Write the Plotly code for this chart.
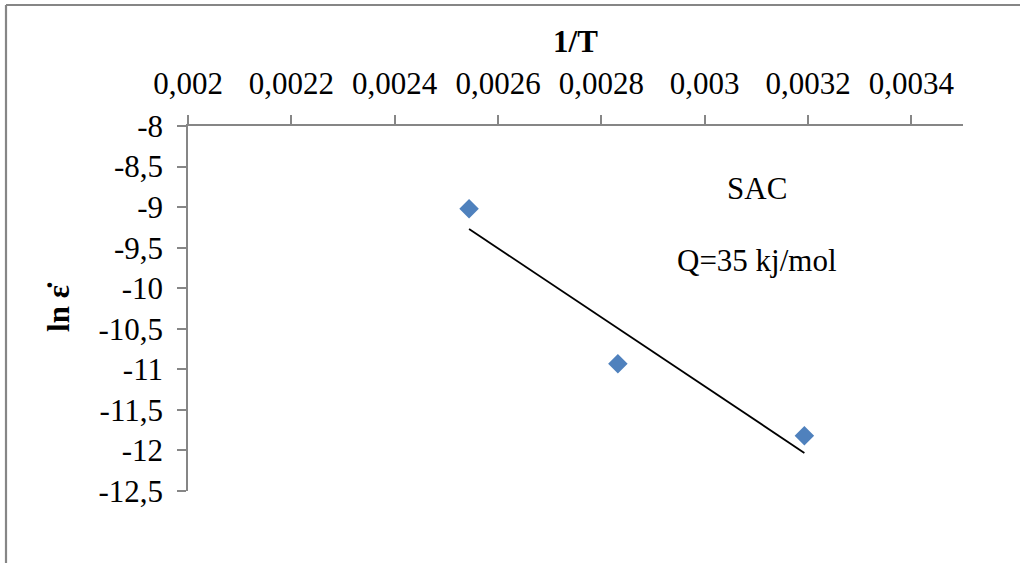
import plotly.graph_objects as go

# data
inv_T = [0.002544, 0.002832, 0.003193]
ln_rate = [-9.02, -10.93, -11.82]
trend_x = [0.002544, 0.003193]
trend_y = [-9.27, -12.03]

x_ticks = [0.002, 0.0022, 0.0024, 0.0026, 0.0028, 0.003, 0.0032, 0.0034]
x_ticktext = ["0,002", "0,0022", "0,0024", "0,0026", "0,0028", "0,003", "0,0032", "0,0034"]
y_ticks = [-8, -8.5, -9, -9.5, -10, -10.5, -11, -11.5, -12, -12.5]
y_ticktext = ["-8", "-8,5", "-9", "-9,5", "-10", "-10,5", "-11", "-11,5", "-12", "-12,5"]

FONT = "Liberation Serif, Times New Roman, serif"
AX = "#868686"
FS = 31

fig = go.Figure()
fig.add_trace(go.Scatter(x=trend_x, y=trend_y, mode="lines",
                         line=dict(color="black", width=1.8), showlegend=False,
                         hoverinfo="skip"))
fig.add_trace(go.Scatter(x=inv_T, y=ln_rate, mode="markers",
                         marker=dict(symbol="diamond", size=15, color="#4F81BD",
                                     line=dict(width=0)),
                         showlegend=False))

L, R, T, B = 188, 57, 126, 72
W, H = 1020, 563
pw, ph = W - L - R, H - T - B

def px(p):
    return (p - L) / pw

def py(q):
    return (H - B - q) / ph

fig.update_layout(
    width=W, height=H,
    margin=dict(l=L, r=R, t=T, b=B, pad=0),
    paper_bgcolor="white", plot_bgcolor="white",
    font=dict(family=FONT, size=FS, color="black"),
    xaxis=dict(range=[0.002, 0.0035], side="top", tickmode="array",
               tickvals=x_ticks, ticktext=x_ticktext,
               showgrid=False, zeroline=False, showline=True,
               linecolor=AX, linewidth=1.6, ticks="outside", ticklen=9,
               tickcolor=AX, tickwidth=1.6, ticklabelstandoff=9,
               anchor="y", position=1,
               title=dict(text="<b>1/T</b>", font=dict(size=FS), standoff=4)),
    yaxis=dict(range=[-12.5, -8], tickmode="array",
               tickvals=y_ticks, ticktext=y_ticktext,
               showgrid=False, zeroline=False, showline=True,
               linecolor=AX, linewidth=1.6, ticks="outside", ticklen=9,
               tickcolor=AX, tickwidth=1.6, ticklabelstandoff=8,
               title=dict(text="<b>ln ε̇</b>", font=dict(size=FS), standoff=20)),
    annotations=[
        dict(text="SAC", x=px(757), y=py(188), xref="paper", yref="paper",
             showarrow=False, xanchor="center", yanchor="middle",
             font=dict(family=FONT, size=FS)),
        dict(text="Q=35 kj/mol", x=px(757), y=py(260), xref="paper", yref="paper",
             showarrow=False, xanchor="center", yanchor="middle",
             font=dict(family=FONT, size=FS)),
    ],
    shapes=[
        dict(type="line", xref="paper", yref="paper", x0=px(6), x1=px(6),
             y0=py(5), y1=py(H + 5), line=dict(color=AX, width=2.2)),
        dict(type="line", xref="paper", yref="paper", x0=px(6), x1=px(W + 5),
             y0=py(5), y1=py(5), line=dict(color=AX, width=2.2)),
    ],
)

fig.write_html("out.html", config={"displayModeBar": False},
               post_script="document.body.style.margin='0';document.body.style.overflow='hidden';")
